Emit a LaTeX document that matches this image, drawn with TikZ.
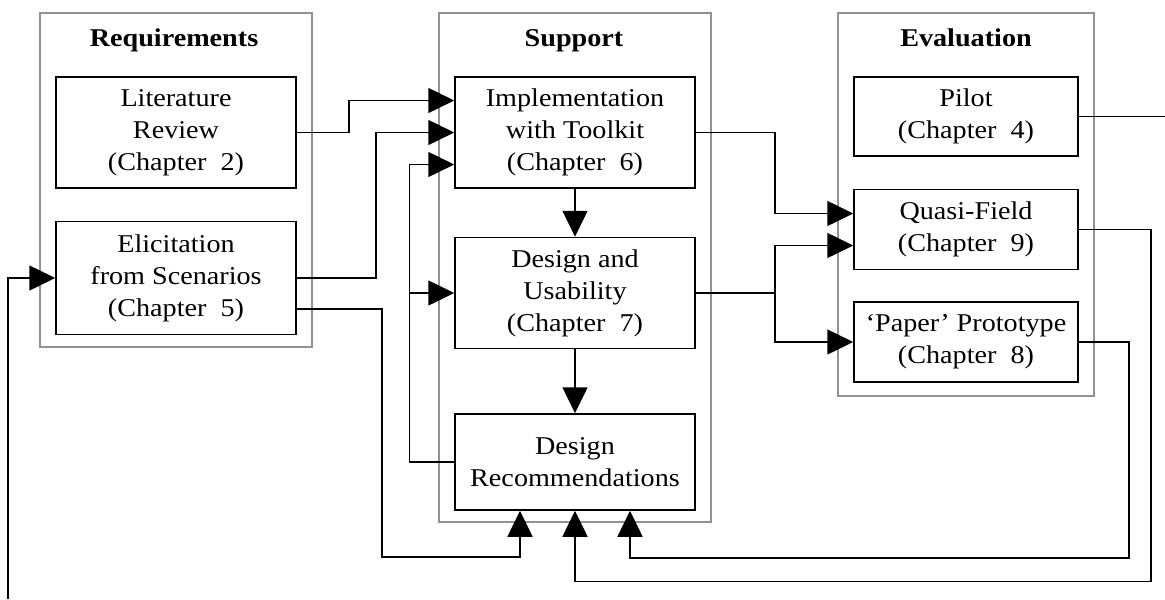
\documentclass[tikz,border=0pt]{standalone}
\usepackage{fontspec}
\setmainfont{Liberation Serif}[FakeStretch=1.1]
\usepackage{tikz}
\usetikzlibrary{positioning,arrows.meta}
\definecolor{FrameGrey}{RGB}{145,145,145}

\begin{document}
\begin{tikzpicture}[x=0.5pt, y=-0.5pt, font=\fontsize{12.8}{16}\selectfont, >={Triangle[length=13pt,width=12.5pt]}, node distance=16pt]
      \tikzset{
        group/.style={draw=FrameGrey, line width=0.6pt, inner sep=0pt},
        stage/.style={draw, line width=0.75pt, minimum width=120pt, minimum height=55.5pt, align=center, inner sep=2pt},
        title/.style={font=\fontsize{12.8}{16}\selectfont\bfseries, anchor=base},
        arrow/.style={->, line width=0.75pt}
      }
      \useasboundingbox (0,0) rectangle (1165,599);

      % the three phases
      \node[group, minimum width=136pt, minimum height=167pt] (req) at (176,180) {};
      \node[group, minimum width=136pt, minimum height=254.5pt] (sup) at (575,267.5) {};
      \node[group, minimum width=128pt, minimum height=191.5pt] (eval) at (966,204.5) {};
      \node[title] (reqtitle) at (174,47) {Requirements};
      \node[title] (suptitle) at (574,47) {Support};
      \node[title] (evaltitle) at (966,47) {Evaluation};

      \node[stage] (lit) at (176,132.5) {Literature\\Review\\(Chapter~~2)};
      \node[stage, below=of lit, minimum height=56.5pt] (elic) {Elicitation\\from Scenarios\\(Chapter~~5)};
      \node[stage] (impl) at (575,132.5) {Implementation\\with Toolkit\\(Chapter~~6)};
      \node[stage, below=24pt of impl] (use) {Design and\\Usability\\(Chapter~~7)};
      \node[stage, below=32pt of use, minimum height=48pt] (rec) {Design\\Recommendations};
      \node[stage, minimum width=112pt, minimum height=39.5pt] (pilot) at (966,116.5) {Pilot\\(Chapter~~4)};
      \node[stage, below=of pilot, minimum width=112pt, minimum height=40pt] (quasi) {Quasi-Field\\(Chapter~~9)};
      \node[stage, below=15.5pt of quasi, minimum width=112pt, minimum height=40pt] (paper) {‘Paper’ Prototype\\(Chapter~~8)};

      \coordinate (edgeR) at (1165,0);
      \coordinate (edgeB) at (8,599);

      \draw[arrow] (lit.east) -- ++(52,0) |- ([yshift=16pt]impl.west);
      \draw[arrow] (elic.east) -- ++(79,0) |- (impl.west);
      \draw[arrow] (rec.west) -- ++(-45,0) coordinate (fb) |- ([yshift=-16pt]impl.west);
      \draw[arrow] (fb |- use.west) -- (use.west);
      \draw[arrow] (impl) -- (use);
      \draw[arrow] (use) -- (rec);
      \draw[arrow] (impl.east) -- ++(79,0) |- ([yshift=8pt]quasi.west);
      \draw[arrow] (use.east) -- ++(79,0) coordinate (split) |- ([yshift=-8pt]quasi.west);
      \draw[arrow] (split) |- (paper.west);
      \draw[line width=0.75pt] (pilot.east) -- (pilot.east -| edgeR);
      \draw[arrow] (edgeB) |- (elic.west);

      % feedback into the recommendations
      \draw[arrow] ([yshift=-15.5pt]elic.east) -- ++(85,0) -- ++(0,248) -| ([xshift=-27.5pt]rec.south);
      \draw[arrow] (quasi.east) -- ++(72,0) -- ++(0,352) -| (rec.south);
      \draw[arrow] (paper.east) -- ++(50,0) -- ++(0,216) -| ([xshift=27.5pt]rec.south);
    \end{tikzpicture}
\end{document}
